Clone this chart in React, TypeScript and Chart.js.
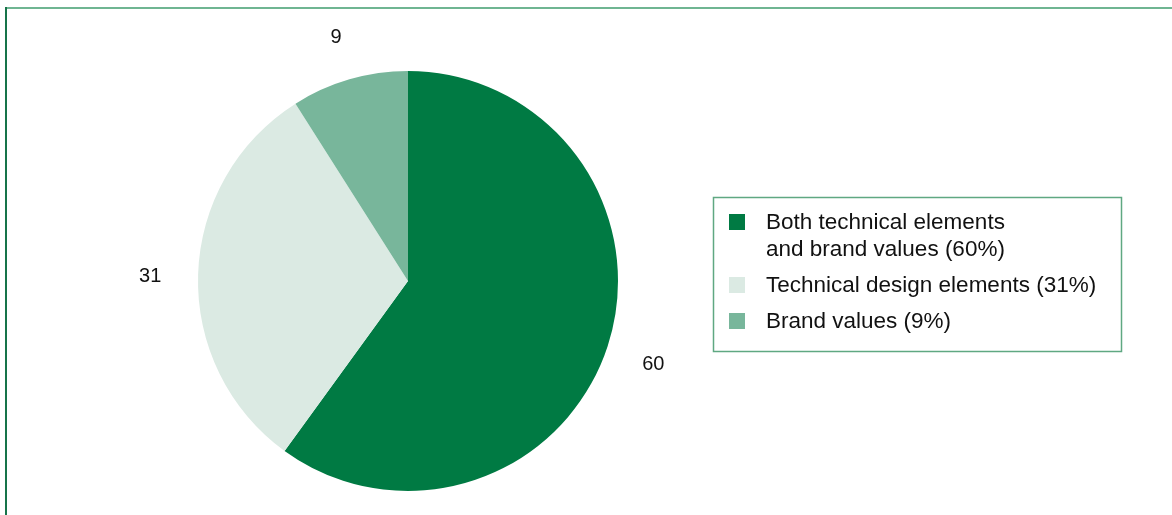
import React, { useEffect, useRef } from "react";
import { Chart, registerables } from "chart.js";

Chart.register(...registerables);

const categories: string[][] = [
  ["Both technical elements", "and brand values (60%)"],
  ["Technical design elements (31%)"],
  ["Brand values (9%)"],
];
const values: number[] = [60, 31, 9];
const colors: string[] = ["#007a43", "#dbeae3", "#78b69b"];

const FONT = '"Liberation Sans", Arial, Helvetica, sans-serif';

const outsideLabels = {
  id: "outsideLabels",
  afterDatasetsDraw(chart: any) {
    const ctx = chart.ctx;
    const meta = chart.getDatasetMeta(0);
    ctx.save();
    ctx.font = `20px ${FONT}`;
    ctx.fillStyle = "#111";
    ctx.textAlign = "center";
    ctx.textBaseline = "middle";
    meta.data.forEach((arc: any, i: number) => {
      const p = arc.getProps(["x", "y", "startAngle", "endAngle", "outerRadius"], true);
      const mid = (p.startAngle + p.endAngle) / 2;
      const r = p.outerRadius + 48;
      ctx.fillText(String(chart.data.datasets[0].data[i]), p.x + Math.cos(mid) * r, p.y + Math.sin(mid) * r + 4);
    });
    ctx.restore();
  },
};

const frameAndLegend = {
  id: "frameAndLegend",
  afterDraw(chart: any) {
    const ctx = chart.ctx;
    const W = chart.width;
    const H = chart.height;
    ctx.save();
    // frame
    ctx.lineWidth = 2;
    ctx.strokeStyle = "#6fb592";
    ctx.beginPath();
    ctx.moveTo(5, 8);
    ctx.lineTo(W, 8);
    ctx.stroke();
    ctx.strokeStyle = "#17744a";
    ctx.beginPath();
    ctx.moveTo(6, 7);
    ctx.lineTo(6, H);
    ctx.stroke();
    // legend box
    ctx.lineWidth = 1.5;
    ctx.strokeStyle = "#5fa882";
    ctx.strokeRect(713.5, 197.5, 408, 154);
    ctx.font = `22.5px ${FONT}`;
    ctx.textAlign = "left";
    ctx.textBaseline = "middle";
    const bg = chart.data.datasets[0].backgroundColor;
    let y = 223;
    chart.data.labels.forEach((lines: string[], i: number) => {
      ctx.fillStyle = bg[i];
      ctx.fillRect(729, y - 9, 16, 16);
      ctx.fillStyle = "#111";
      lines.forEach((ln: string, j: number) => {
        ctx.fillText(ln, 766, y + j * 27);
      });
      y += (lines.length - 1) * 27 + 36;
    });
    ctx.restore();
  },
};

export default function App() {
  const ref = useRef<HTMLCanvasElement>(null);
  useEffect(() => {
    if (!ref.current) return;
    const chart = new Chart(ref.current, {
      type: "pie",
      data: {
        labels: categories as any,
        datasets: [
          {
            data: values,
            backgroundColor: colors,
            borderWidth: 0,
          },
        ],
      },
      options: {
        animation: false,
        responsive: false,
        maintainAspectRatio: false,
        layout: { padding: { left: 198, right: 554, top: 71, bottom: 24 } },
        plugins: {
          legend: { display: false },
          tooltip: { enabled: false },
        },
      },
      plugins: [outsideLabels, frameAndLegend],
    });
    return () => chart.destroy();
  }, []);
  return (
    <div style={{ position: "fixed", left: 0, top: 0, width: 1172, height: 515, background: "#fff" }}>
      <canvas ref={ref} width={1172} height={515} style={{ display: "block" }} />
    </div>
  );
}
